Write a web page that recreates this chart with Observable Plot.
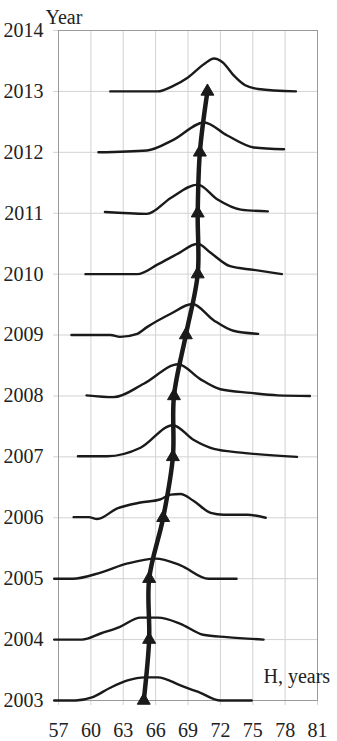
<!DOCTYPE html>
<html>
<head>
<meta charset="utf-8">
<script src="https://cdn.jsdelivr.net/npm/d3@7"></script>
<script src="https://cdn.jsdelivr.net/npm/@observablehq/plot@0.6"></script>
<style>
  html, body { margin: 0; padding: 0; background: #fff; }
  #chart svg { display: block; }
  #chart svg text, #chart svg g[aria-label] { font-family: "Liberation Serif", "DejaVu Serif", serif !important; }
  #chart svg text { font-size: 20px !important; }
</style>
</head>
<body>
<div id="chart"></div>
<script>
// Years and the mean H (triangle markers)
const years = [2003, 2004, 2005, 2006, 2007, 2008, 2009, 2010, 2011, 2012, 2013];
const meanH = [64.9, 65.4, 65.4, 66.7, 67.6, 67.7, 68.8, 69.9, 69.9, 70.1, 70.8];

// Distribution curves: [H, relative height above the year's baseline]
const curve2003 = [[56.6,0],[58.6,0],[60.1,0.05],[61.8,0.21],[63.4,0.33],[65.0,0.38],[66.2,0.38],[68.3,0.25],[70.1,0.13],[72.0,0],[74.9,0]];
const curve2004 = [[56.6,0],[59.2,0],[60.9,0.1],[62.7,0.21],[64.6,0.36],[66.2,0.36],[68.3,0.26],[70.4,0.08],[72.6,0.04],[76.0,0]];
const curve2005 = [[56.6,0],[58.3,0],[60.9,0.1],[63.4,0.25],[66.0,0.33],[68.3,0.22],[70.9,0],[73.5,0]];
const curve2006 = [[58.4,0.01],[59.8,0.01],[60.6,-0.02],[62.4,0.15],[64.6,0.25],[66.4,0.3],[67.4,0.38],[68.3,0.39],[69.5,0.28],[71.1,0.08],[72.3,0.05],[74.5,0.05],[76.2,0]];
const curve2007 = [[58.8,0.01],[61.5,0.01],[64.6,0.15],[67.6,0.52],[69.5,0.28],[71.4,0.13],[73.9,0.07],[79.1,0]];
const curve2008 = [[59.6,0.01],[62.1,-0.02],[64.9,0.2],[68.1,0.52],[70.1,0.28],[72.0,0.11],[74.8,0.05],[77.3,0.01],[80.3,0]];
const curve2009 = [[58.2,0],[61.8,0],[62.7,-0.03],[64.3,0.02],[65.2,0.13],[67.4,0.35],[69.4,0.51],[71.4,0.24],[73.2,0.07],[75.5,0.02]];
const curve2010 = [[59.5,0],[64.3,0],[66.2,0.16],[68.0,0.33],[69.9,0.5],[71.1,0.35],[72.9,0.13],[75.1,0.07],[77.7,0]];
const curve2011 = [[61.3,0.02],[65.2,-0.01],[67.4,0.25],[69.9,0.47],[71.7,0.23],[73.9,0.06],[76.4,0.03]];
const curve2012 = [[60.7,0],[65.2,0.03],[67.6,0.2],[70.5,0.49],[72.6,0.28],[75.1,0.08],[77.9,0.05]];
const curve2013 = [[61.8,0],[66.2,0],[67.5,0.08],[69.0,0.23],[70.5,0.45],[71.4,0.54],[72.2,0.48],[73.3,0.25],[74.3,0.1],[75.5,0.04],[79.0,0]];

// Axis ticks
const xTicks = [57, 60, 63, 66, 69, 72, 75, 78, 81];
const yTicks = [2003, 2004, 2005, 2006, 2007, 2008, 2009, 2010, 2011, 2012, 2013, 2014];

const curves = [curve2003, curve2004, curve2005, curve2006, curve2007, curve2008,
                curve2009, curve2010, curve2011, curve2012, curve2013];
const rows = curves.flatMap((c, i) => c.map(([h, d]) => ({year: years[i], h, y: years[i] + d})));
const means = years.map((y, i) => ({year: y, h: meanH[i]}));

const ink = "#1a1a1a";
const grid = "#d2d2d2";

const chart = Plot.plot({
  width: 337,
  height: 741,
  marginLeft: 58,
  marginRight: 20,
  marginTop: 30,
  marginBottom: 41,
  style: {fontFamily: "Liberation Serif, DejaVu Serif, serif", fontSize: "20px", color: "#222", background: "#fff", overflow: "visible"},
  x: {domain: [57, 81]},
  y: {domain: [2003, 2014]},
  marks: [
    Plot.gridX(xTicks, {stroke: grid, strokeOpacity: 1}),
    Plot.gridY(yTicks, {stroke: grid, strokeOpacity: 1}),
    Plot.axisX(xTicks, {tickSize: 5, tickPadding: 17, stroke: grid, label: null, tickFormat: d => String(d)}),
    Plot.axisY(yTicks, {tickSize: 5, tickPadding: 10, stroke: grid, label: null, tickFormat: d => String(d)}),
    Plot.frame({stroke: "#9a9a9a"}),
    Plot.line(rows, {x: "h", y: "y", z: "year", curve: "monotone-x", stroke: ink, strokeWidth: 2.4}),
    Plot.line(means, {x: "h", y: "year", curve: "catmull-rom", stroke: ink, strokeWidth: 4.5}),
    Plot.dot(means, {x: "h", y: "year", symbol: "triangle", r: 4.8, fill: ink, stroke: ink, strokeWidth: 1}),
    Plot.text(["Year"], {frameAnchor: "top-left", textAnchor: "start", dx: -13, dy: -21, fill: "#222"}),
    Plot.text(["H, years"], {frameAnchor: "bottom-right", textAnchor: "start", dx: -54, dy: -18, fill: "#222"})
  ]
});
document.getElementById("chart").appendChild(chart);
</script>
</body>
</html>
